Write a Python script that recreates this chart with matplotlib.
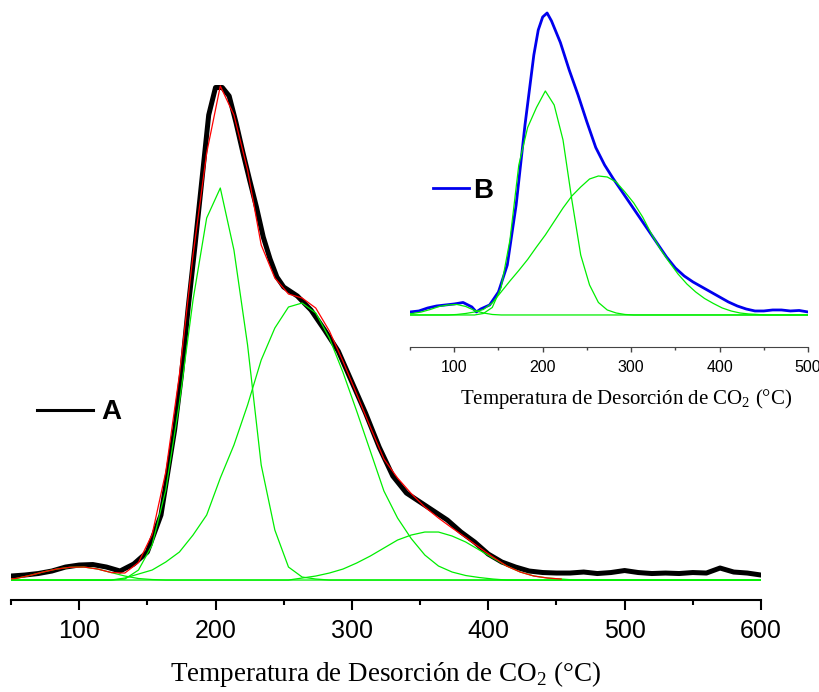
import numpy as np
import matplotlib.pyplot as plt
from matplotlib.ticker import MultipleLocator

plt.rcParams['font.family'] = ['Liberation Sans', 'DejaVu Sans']
plt.rcParams['mathtext.fontset'] = 'custom'
plt.rcParams['mathtext.rm'] = 'Liberation Serif'

# --- muestra A: señal TPD (u.a.) ---
temp_a = [50, 60, 70, 80, 90, 100, 110, 120, 130, 140, 150, 160, 170, 175, 180, 185, 190,
          195, 200, 205, 210, 215, 220, 225, 230, 235, 240, 245, 250, 260, 270, 280, 290,
          300, 310, 320, 330, 340, 350, 360, 370, 380, 390, 400, 410, 420, 430, 440, 450,
          460, 470, 480, 490, 500, 510, 520, 530, 540, 550, 560, 570, 580, 590, 600]
cps_a = [0.8, 1.0, 1.3, 1.8, 2.6, 3.0, 3.1, 2.6, 1.8, 3.2, 5.6, 13, 30, 41, 54.6, 67, 80,
         93, 98.5, 98.5, 96.8, 91.5, 85.6, 80, 74.6, 68.6, 64.2, 60.6, 58.6, 56.8, 54, 50, 45.8,
         39.6, 33.4, 26.6, 20.8, 17.4, 15.6, 13.8, 12, 9.6, 7.6, 5.2, 3.6, 2.6, 1.8, 1.5, 1.4,
         1.4, 1.6, 1.3, 1.5, 1.9, 1.5, 1.3, 1.4, 1.3, 1.5, 1.4, 2.4, 1.6, 1.4, 1.0]

# componentes del ajuste A (muestreadas cada 10 °C desde 43.5 °C)
t_fit_a = np.arange(43.5, 610, 10)
comp1_a = [0.1, 0.3, 0.9, 1.6, 2.2, 2.55, 2.6, 2.2, 1.5, 0.8, 0.3, 0.1] + [0] * 45
comp2_a = [0] * 9 + [0.2, 2.0, 7.0, 18, 35.4, 56, 72.4, 78.4, 66, 47, 23, 10, 2.6, 0.6, 0.2] + [0] * 33
comp3_a = [0] * 9 + [0.4, 1.2, 2.0, 3.6, 5.6, 9, 13, 20.4, 27, 35, 44, 50.4, 54.6, 55.4, 53.4,
                     48.4, 41.5, 33.8, 25.8, 17.8, 12.4, 8.3, 5.0, 2.8, 1.6, 0.9, 0.5, 0.2] + [0] * 20
comp4_a = [0] * 22 + [0.4, 0.8, 1.4, 2.2, 3.4, 4.8, 6.4, 8, 9, 9.6, 9.6, 8.8, 7.6, 6, 4.4,
                      2.8, 1.6, 0.8, 0.4, 0.2] + [0] * 15

# --- muestra B (recuadro) ---
temp_b = [50, 60, 70, 80, 90, 100, 110, 120, 125, 130, 140, 150, 160, 170, 180, 190, 195,
          200, 205, 210, 220, 230, 240, 250, 260, 270, 280, 290, 300, 310, 320, 330, 340,
          350, 360, 370, 380, 390, 400, 410, 420, 430, 440, 450, 460, 470, 480, 490, 500]
cps_b = [0.6, 0.8, 1.4, 1.8, 2.0, 2.2, 2.5, 1.6, 0.6, 1.2, 2.0, 4.6, 10, 22, 38, 52, 57,
         59.6, 60.4, 58.8, 54.5, 49, 44, 38.6, 33.5, 30, 27.2, 24.6, 22, 19.4, 16.8, 14.2, 11.6,
         9.4, 7.8, 6.6, 5.6, 4.6, 3.6, 2.6, 1.8, 1.2, 0.8, 0.8, 1.0, 1.0, 0.8, 0.9, 0.6]

t_fit_b = np.arange(43, 510, 10)
comp1_b = [0.1, 0.3, 0.6, 1.1, 1.7, 2.0, 2.1, 1.7, 0.9, 0.4, 0.1] + [0] * 36
comp2_b = [0] * 9 + [0.3, 1.5, 5.5, 15, 30, 37.5, 41.5, 44.8, 42, 35, 23, 12, 6, 2.5, 1, 0.4, 0.1] + [0] * 21
comp3_b = [0] * 6 + [0.1, 0.3, 0.6, 1.1, 2.4, 4.6, 6.8, 8.9, 11.1, 13.6, 16, 18.7, 21.4, 23.8,
                     25.6, 27.2, 27.8, 27.6, 26.6, 24.6, 22.4, 19.6, 16.2, 13.2, 10.6, 8.2, 6.2,
                     4.6, 3.3, 2.3, 1.4, 0.8, 0.4, 0.2, 0.1] + [0] * 6

ticks_a = [100, 200, 300, 400, 500, 600]
ticks_b = [100, 200, 300, 400, 500]
xlabel = 'Temperatura de Desorción de CO$_\\mathregular{2}$ (°C)'
verde = '#00ee00'

fig = plt.figure(figsize=(8.2, 6.92), dpi=100)

# grafica principal
ax = fig.add_axes([0.0134, 0.1329, 0.9146, 0.8671])
linea_a, = ax.plot(temp_a, cps_a, color='black', lw=3.6, solid_joinstyle='round', label='A')
for comp in [comp1_a, comp2_a, comp3_a, comp4_a]:
    ax.plot(t_fit_a, comp, color=verde, lw=0.9)
ajuste_a = np.sum([comp1_a, comp2_a, comp3_a, comp4_a], axis=0)
ajuste_a = np.ma.masked_where(ajuste_a == 0, ajuste_a)  # el ajuste solo donde hay picos
ax.plot(t_fit_a, ajuste_a, color='red', lw=0.9)
ax.set_xlim(50, 600)
ax.set_ylim(-4, 116)
ax.set_xticks(ticks_a)
ax.xaxis.set_minor_locator(MultipleLocator(50))
ax.tick_params(axis='x', which='major', length=7.5, width=1.5, pad=6, labelsize=18)
ax.tick_params(axis='x', which='minor', length=3.8, width=1.5)
ax.set_yticks([])
for s in ['left', 'right', 'top']:
    ax.spines[s].set_visible(False)
ax.spines['bottom'].set_linewidth(1.5)
ax.set_xlabel(xlabel, family='Liberation Serif', fontsize=19.5, labelpad=12)
ax.patch.set_alpha(0)
leg = ax.legend(handles=[linea_a], loc='center left', bbox_to_anchor=(0.035, 0.313),
                frameon=False, prop={'weight': 'bold', 'size': 20}, handlelength=2.0,
                handletextpad=0.3, borderpad=0, borderaxespad=0)
leg.get_lines()[0].set_linewidth(2.2)

# recuadro B
axb = fig.add_axes([0.5, 0.4986, 0.4854, 0.5014])
linea_b, = axb.plot(temp_b, cps_b, color='#0000ee', lw=2, label='B')
for comp in [comp1_b, comp2_b, comp3_b]:
    axb.plot(t_fit_b, comp, color=verde, lw=0.9)
axb.set_xlim(50, 500)
axb.set_ylim(-6.4, 63)
axb.set_xticks(ticks_b)
axb.xaxis.set_minor_locator(MultipleLocator(50))
axb.tick_params(axis='x', which='major', length=3.5, width=1, pad=6, labelsize=11.5, color='#444444')
axb.tick_params(axis='x', which='minor', length=2.2, width=1, color='#444444')
axb.set_yticks([])
for s in ['left', 'right', 'top']:
    axb.spines[s].set_visible(False)
axb.spines['bottom'].set_color('#444444')
axb.set_xlabel(xlabel, family='Liberation Serif', fontsize=15, labelpad=10)
axb.xaxis.set_label_coords(0.543, -0.115)
axb.patch.set_alpha(0)
axb.legend(handles=[linea_b], loc='center left', bbox_to_anchor=(0.058, 0.45),
           frameon=False, prop={'weight': 'bold', 'size': 20}, handlelength=1.3,
           handletextpad=0.15, borderpad=0, borderaxespad=0)

fig.savefig('out.png', dpi=100)
